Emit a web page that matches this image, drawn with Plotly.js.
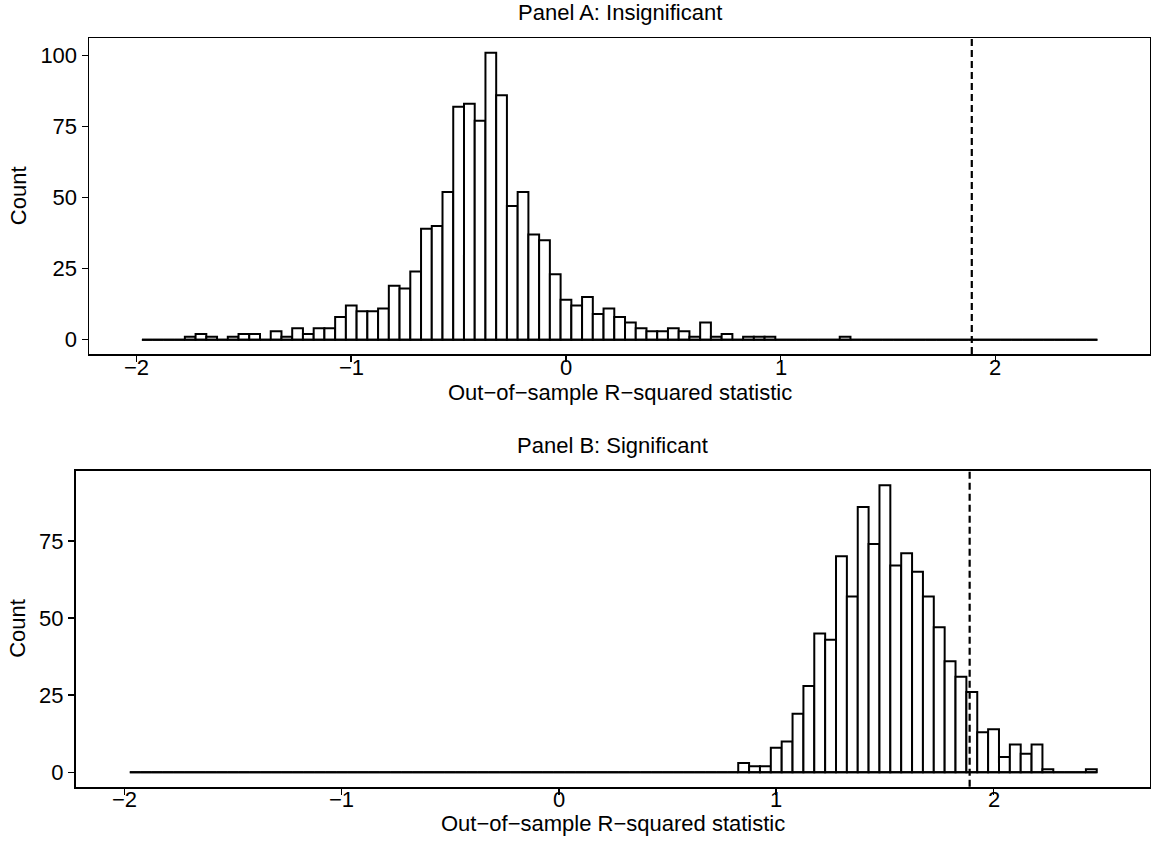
<!DOCTYPE html>
<html><head><meta charset="utf-8">
<script src="https://cdn.plot.ly/plotly-3.0.1.min.js"></script>
<style>html,body{margin:0;padding:0;background:#fff;} #chart{width:1151px;height:850px;}</style>
</head><body><div id="chart"></div>
<script>
// ---- data ----
const binStart = -1.975;
const binWidth = 0.05;
const countsA = [0,0,0,0,
  1,2,1,0,1,2,2,
  0,3,1,4,2,4,4,
  8,12,10,10,11,19,18,
  24,39,40,52,82,83,77,
  101,86,47,52,37,35,23,
  14,12,15,9,11,8,6,
  4,3,3,4,3,1,6,
  1,2,0,1,1,1,0,
  0,0,0,0,0,1,0,
  0,0,0,0,0,0,0,0,0,0,0,0,0,0,0,0,0,0,0,0,0,0];
const countsB = [0,0,0,0,0,0,0,0,0,0,0,0,0,0,0,0,0,0,0,0,0,0,0,0,0,0,0,0,
  0,0,0,0,0,0,0,0,0,0,0,0,0,0,0,0,0,0,0,0,0,0,0,0,0,0,0,0,
  3,2,2,8,10,19,28,
  45,43,70,57,86,74,93,
  67,71,65,57,47,36,31,
  26,13,14,5,9,6,9,
  1,0,0,0,1];
const thresholdValue = 1.89;
const xTickVals = [-2,-1,0,1,2];
const xTickText = ["−2","−1","0","1","2"];
const yTickValsA = [0,25,50,75,100];
const yTickValsB = [0,25,50,75];
const panelTitles = ["Panel A: Insignificant","Panel B: Significant"];
const xAxisTitle = "Out−of−sample R−squared statistic";
const yAxisTitle = "Count";

// ---- derived ----
const binCenters = countsA.map((_, i) => binStart + binWidth * (i + 0.5));
const edgeFirst = binStart;
const edgeLast = binStart + binWidth * countsA.length;

const W = 1151, H = 850;
const FONT = "Liberation Sans, Arial, Helvetica, sans-serif";
const FS = 22;
const px = v => v / W;
const py = v => (H - v) / H;
const txtFont = {family: FONT, size: FS, color: '#000'};

const barStyle = {color: '#ffffff', line: {color: '#000000', width: 2}};
function baseline(xa, ya) {
  return {type: 'scatter', mode: 'lines', x: [edgeFirst, edgeLast], y: [0, 0],
    xaxis: xa, yaxis: ya, line: {color: '#000', width: 2}, hoverinfo: 'skip', showlegend: false};
}
const traces = [
  baseline('x', 'y'),
  {type: 'bar', x: binCenters, y: countsA, width: binWidth, marker: barStyle, xaxis: 'x', yaxis: 'y', showlegend: false},
  baseline('x2', 'y2'),
  {type: 'bar', x: binCenters, y: countsB, width: binWidth, marker: barStyle, xaxis: 'x2', yaxis: 'y2', showlegend: false}
];

const A = {l: 89.3, r: 1150, t: 38.3, b: 354, tickY: 367, titleY: 392};
const B = {l: 75.7, r: 1150, t: 471, b: 786.7, tickY: 799, titleY: 823};

function xax(dom, range) {
  return {domain: [px(dom.l), px(dom.r)], range: range, tickmode: 'array', tickvals: xTickVals, ticktext: xTickText,
    showticklabels: false,
    ticks: 'outside', ticklen: 6, tickwidth: 1.6, tickcolor: '#000', showline: true, mirror: true,
    linecolor: '#000', linewidth: 1.8, showgrid: false, zeroline: false};
}
function yax(dom, range, tv) {
  return {domain: [py(dom.b), py(dom.t)], range: range, tickmode: 'array', tickvals: tv,
    ticks: 'outside', ticklen: 6, tickwidth: 1.6, tickcolor: '#000', showline: true, mirror: true,
    linecolor: '#000', linewidth: 1.8, showgrid: false, zeroline: false,
    tickfont: txtFont};
}
const maxA = Math.max(...countsA), maxB = Math.max(...countsB);

const annotations = [
  {text: panelTitles[0], xref: 'paper', yref: 'paper', x: px((A.l + A.r) / 2), y: py(13), xanchor: 'center', yanchor: 'middle', showarrow: false, font: txtFont},
  {text: panelTitles[1], xref: 'paper', yref: 'paper', x: px((B.l + B.r) / 2), y: py(446), xanchor: 'center', yanchor: 'middle', showarrow: false, font: txtFont},
  {text: xAxisTitle, xref: 'paper', yref: 'paper', x: px((A.l + A.r) / 2), y: py(A.titleY), xanchor: 'center', yanchor: 'middle', showarrow: false, font: txtFont},
  {text: xAxisTitle, xref: 'paper', yref: 'paper', x: px((B.l + B.r) / 2), y: py(B.titleY), xanchor: 'center', yanchor: 'middle', showarrow: false, font: txtFont},
  {text: yAxisTitle, xref: 'paper', yref: 'paper', x: px(18), y: py((A.t + A.b) / 2), xanchor: 'center', yanchor: 'middle', textangle: -90, showarrow: false, font: txtFont},
  {text: yAxisTitle, xref: 'paper', yref: 'paper', x: px(18), y: py((B.t + B.b) / 2), xanchor: 'center', yanchor: 'middle', textangle: -90, showarrow: false, font: txtFont}
];
xTickVals.forEach((v, i) => {
  annotations.push({text: xTickText[i], xref: 'x', yref: 'paper', x: v, y: py(A.tickY), xanchor: 'center', yanchor: 'middle', showarrow: false, font: txtFont});
  annotations.push({text: xTickText[i], xref: 'x2', yref: 'paper', x: v, y: py(B.tickY), xanchor: 'center', yanchor: 'middle', showarrow: false, font: txtFont});
});

const layout = {
  width: W, height: H, margin: {l: 0, r: 0, t: 0, b: 0},
  paper_bgcolor: '#fff', plot_bgcolor: '#fff', bargap: 0, showlegend: false,
  xaxis: xax(A, [-2.22, 2.72]),
  yaxis: Object.assign(yax(A, [-0.05 * maxA, 1.05 * maxA], yTickValsA), {anchor: 'x'}),
  xaxis2: Object.assign(xax(B, [-2.224, 2.72]), {anchor: 'y2'}),
  yaxis2: Object.assign(yax(B, [-0.05 * maxB, 1.05 * maxB], yTickValsB), {anchor: 'x2'}),
  shapes: [
    {type: 'line', xref: 'x', yref: 'y domain', x0: thresholdValue, x1: thresholdValue, y0: 0, y1: 1,
     line: {color: '#000', width: 2.2, dash: '7px,4px'}},
    {type: 'line', xref: 'x2', yref: 'y2 domain', x0: thresholdValue, x1: thresholdValue, y0: 0, y1: 1,
     line: {color: '#000', width: 2.2, dash: '7px,4px'}}
  ],
  annotations: annotations
};
Plotly.newPlot('chart', traces, layout, {displayModeBar: false, staticPlot: true});
</script>
</body></html>
